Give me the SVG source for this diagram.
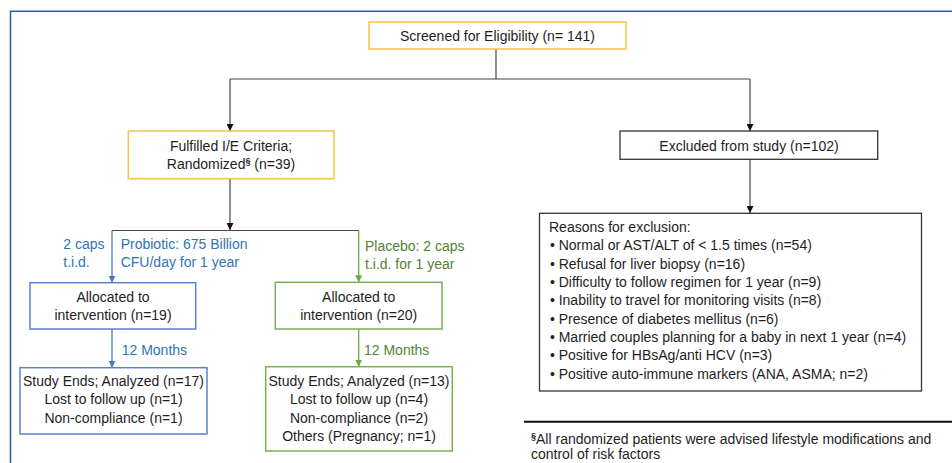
<svg xmlns="http://www.w3.org/2000/svg" width="952" height="463" viewBox="0 0 952 463">
<defs>
<style>
text{font-family:"Liberation Sans",Arial,sans-serif;font-size:14px;fill:#1e1e1e}
.c{text-anchor:middle}
.blue{fill:#2E75B6}
.green{fill:#548235}
.yb{fill:#fff;stroke:#F6C445;stroke-width:1.5}
.kb{fill:#fff;stroke:#333;stroke-width:1.3}
.bb{fill:#fff;stroke:#5B82CC;stroke-width:1.5}
.gb{fill:#fff;stroke:#78B152;stroke-width:1.5}
.ln{fill:none;stroke:#444;stroke-width:1.2}
.lb{fill:none;stroke:#4A78C8;stroke-width:1.3}
.lg{fill:none;stroke:#6DAA45;stroke-width:1.3}
.sup{font-size:9px;font-weight:bold}
</style>
<marker id="ak" viewBox="0 0 10 10" refX="10" refY="5" markerWidth="7" markerHeight="7" markerUnits="userSpaceOnUse" orient="auto"><path d="M0,0 L10,5 L0,10 z" fill="#111"/></marker>
<marker id="ab" viewBox="0 0 10 10" refX="10" refY="5" markerWidth="7" markerHeight="7" markerUnits="userSpaceOnUse" orient="auto"><path d="M0,0 L10,5 L0,10 z" fill="#4A78C8"/></marker>
<marker id="ag" viewBox="0 0 10 10" refX="10" refY="5" markerWidth="7" markerHeight="7" markerUnits="userSpaceOnUse" orient="auto"><path d="M0,0 L10,5 L0,10 z" fill="#6DAA45"/></marker>
</defs>
<rect x="0" y="0" width="952" height="463" fill="#fff"/>
<rect x="10.5" y="11.3" width="960" height="470" fill="none" stroke="#2F55A8" stroke-width="1.5"/>

<g id="connectors">
<path class="ln" d="M496,49 V79"/>
<path class="ln" d="M230,79 H750"/>
<path class="ln" d="M230,79 V131" marker-end="url(#ak)"/>
<path class="ln" d="M750,79 V131" marker-end="url(#ak)"/>
<path class="ln" d="M750,159 V213" marker-end="url(#ak)"/>
<path class="ln" d="M230,179 V230" marker-end="url(#ak)"/>
<path class="ln" d="M112,230.5 H358.7"/>
<path class="lb" d="M112,230.5 V282.7" marker-end="url(#ab)"/>
<path class="lg" d="M358.7,230.5 V282.3" marker-end="url(#ag)"/>
<path class="lb" d="M112,329 V367.7" marker-end="url(#ab)"/>
<path class="lg" d="M358.7,329 V366.7" marker-end="url(#ag)"/>
</g>

<g id="screened">
<rect class="yb" x="369" y="22" width="257" height="27"/>
<text class="c" x="497.5" y="41">Screened for Eligibility (n= 141)</text>
</g>

<g id="randomized">
<rect class="yb" x="128.3" y="131" width="205.7" height="47.7"/>
<text class="c" x="231" y="150.5">Fulfilled I/E Criteria;</text>
<text class="c" x="231" y="169">Randomized<tspan class="sup" dy="-5">§</tspan><tspan dy="5"> (n=39)</tspan></text>
</g>

<g id="excluded">
<rect class="kb" x="620" y="131" width="257.7" height="28.3"/>
<text class="c" x="749" y="150.5">Excluded from study (n=102)</text>
</g>

<g id="reasons">
<rect class="kb" x="539.5" y="213.3" width="382" height="177.7"/>
<text x="549" y="232">Reasons for exclusion:</text>
<text x="550" y="250.3">•</text><text x="558.7" y="250.3">Normal or AST/ALT of &lt; 1.5 times (n=54)</text>
<text x="550" y="268.7">•</text><text x="558.7" y="268.7">Refusal for liver biopsy (n=16)</text>
<text x="550" y="287">•</text><text x="558.7" y="287">Difficulty to follow regimen for 1 year (n=9)</text>
<text x="550" y="305.3">•</text><text x="558.7" y="305.3">Inability to travel for monitoring visits (n=8)</text>
<text x="550" y="323.7">•</text><text x="558.7" y="323.7">Presence of diabetes mellitus (n=6)</text>
<text x="550" y="342">•</text><text x="558.7" y="342">Married couples planning for a baby in next 1 year (n=4)</text>
<text x="550" y="360.3">•</text><text x="558.7" y="360.3">Positive for HBsAg/anti HCV (n=3)</text>
<text x="550" y="378.7">•</text><text x="558.7" y="378.7">Positive auto-immune markers (ANA, ASMA; n=2)</text>
</g>

<g id="probiotic-label">
<text class="blue" x="63.3" y="248.5">2 caps</text>
<text class="blue" x="63.3" y="267">t.i.d.</text>
<text class="blue" x="120.7" y="248.5">Probiotic: 675 Billion</text>
<text class="blue" x="120.7" y="267">CFU/day for 1 year</text>
</g>

<g id="placebo-label">
<text class="green" x="365" y="250.5">Placebo: 2 caps</text>
<text class="green" x="365" y="269">t.i.d. for 1 year</text>
</g>

<g id="alloc-probiotic">
<rect class="bb" x="30" y="282.7" width="165.7" height="46.3"/>
<text class="c" x="113" y="301.5">Allocated to</text>
<text class="c" x="113" y="319.5">intervention (n=19)</text>
</g>

<g id="alloc-placebo">
<rect class="gb" x="275.3" y="282.3" width="166.7" height="46.7"/>
<text class="c" x="358.7" y="301.5">Allocated to</text>
<text class="c" x="358.7" y="319.5">intervention (n=20)</text>
</g>

<g id="months-labels">
<text class="blue" x="121.7" y="355">12 Months</text>
<text class="green" x="364" y="355">12 Months</text>
</g>

<g id="end-probiotic">
<rect class="bb" x="20" y="367.7" width="187" height="66.3"/>
<text class="c" x="113.5" y="386">Study Ends; Analyzed (n=17)</text>
<text class="c" x="113.5" y="404.3">Lost to follow up (n=1)</text>
<text class="c" x="113.5" y="422.7">Non-compliance (n=1)</text>
</g>

<g id="end-placebo">
<rect class="gb" x="265.7" y="366.7" width="186.6" height="84.3"/>
<text class="c" x="359" y="386">Study Ends; Analyzed (n=13)</text>
<text class="c" x="359" y="404.3">Lost to follow up (n=4)</text>
<text class="c" x="359" y="422.7">Non-compliance (n=2)</text>
<text class="c" x="359" y="441">Others (Pregnancy; n=1)</text>
</g>

<g id="footnote">
<path d="M524,421.7 H952" stroke="#111" stroke-width="2" fill="none"/>
<text x="531" y="444"><tspan class="sup" dy="-5">§</tspan><tspan dy="5">All randomized patients were advised lifestyle modifications and</tspan></text>
<text x="531" y="459">control of risk factors</text>
</g>
</svg>
